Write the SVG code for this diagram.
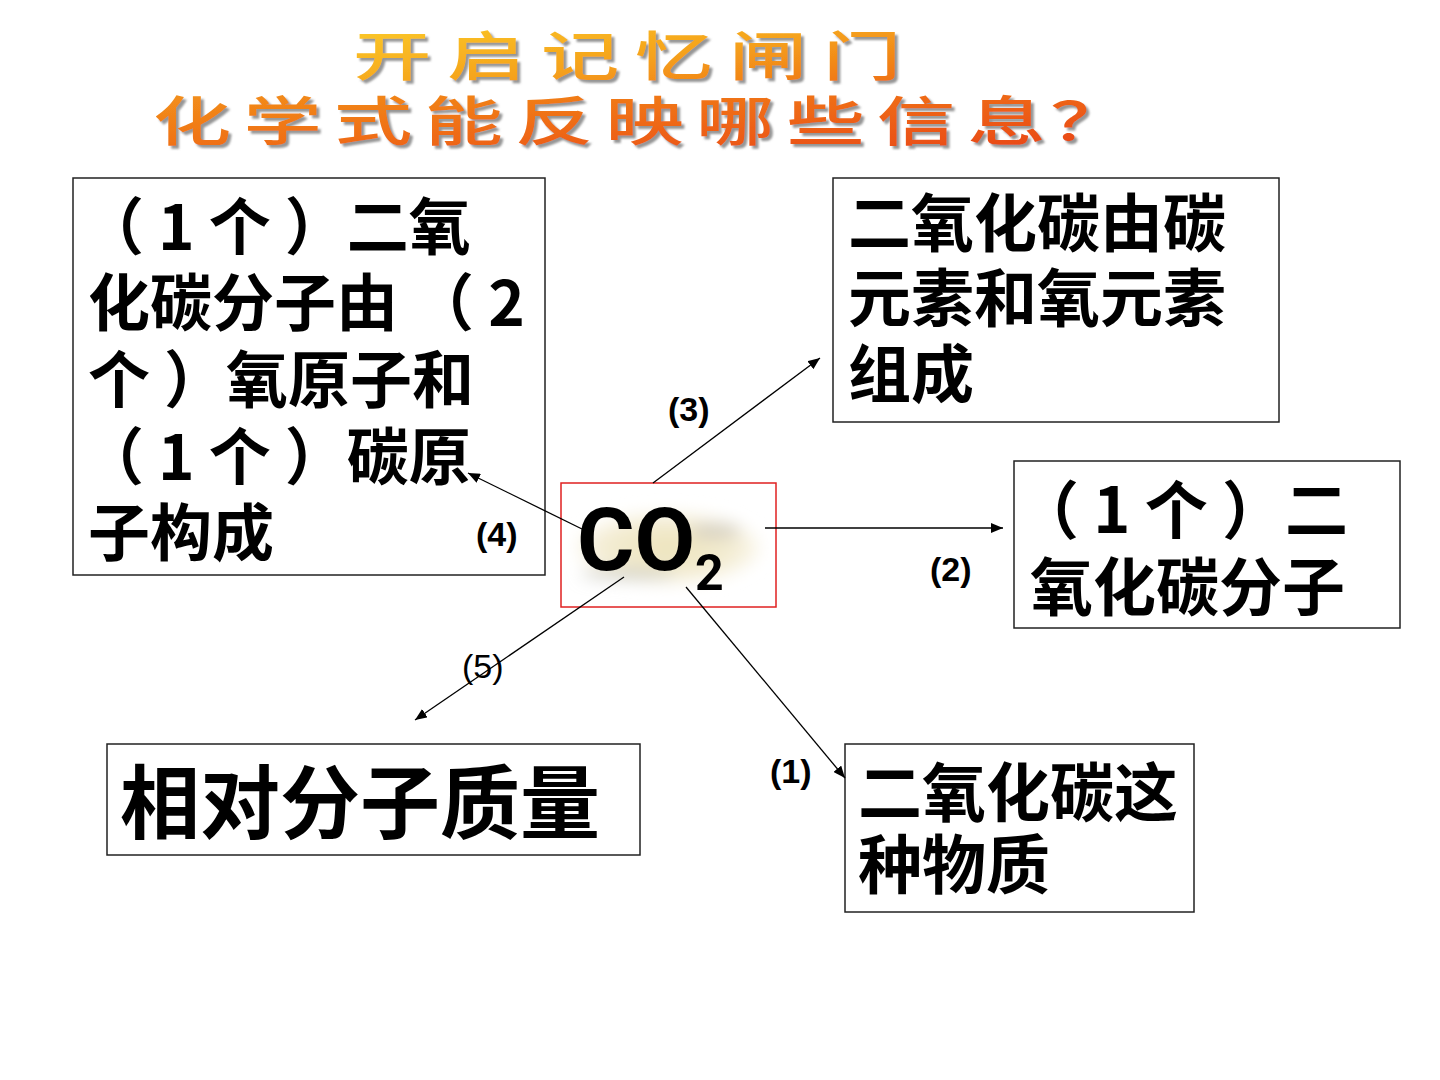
<svg xmlns="http://www.w3.org/2000/svg" width="1440" height="1080" viewBox="0 0 1440 1080">
<style>
.box{fill:#fff;stroke:#222;stroke-width:1.5}
.t{font-family:"Noto Sans CJK SC","Noto Sans",sans-serif;font-weight:700;fill:#000}
.lb{font-family:"Liberation Sans",Arial,sans-serif;font-size:34px;font-weight:700;fill:#000}
.lr{font-family:"Liberation Sans",Arial,sans-serif;font-size:34px;font-weight:400;fill:#000}
.conn{stroke:#000;stroke-width:1.3;fill:none;marker-end:url(#arr)}
.title{font-family:"Noto Sans CJK SC",sans-serif;font-size:54px;font-weight:500}
</style>
<defs>
<marker id="arr" viewBox="0 0 12 10" refX="12" refY="5" markerWidth="12" markerHeight="10" markerUnits="userSpaceOnUse" orient="auto">
<path d="M0,0 L12,5 L0,10 z" fill="#000"/>
</marker>
<linearGradient id="g1" x1="0" y1="0" x2="1" y2="1">
<stop offset="0" stop-color="#fcd02a"/>
<stop offset="0.55" stop-color="#f5a21c"/>
<stop offset="1" stop-color="#ee6a14"/>
</linearGradient>
<linearGradient id="g2" x1="0" y1="0" x2="1" y2="1">
<stop offset="0" stop-color="#f39a1c"/>
<stop offset="0.5" stop-color="#ef6c16"/>
<stop offset="1" stop-color="#e8401a"/>
</linearGradient>
<filter id="sh" x="-5%" y="-20%" width="110%" height="150%">
<feDropShadow dx="3" dy="3" stdDeviation="0.8" flood-color="#8a8a8a" flood-opacity="0.9"/>
</filter>
<filter id="blur" x="-30%" y="-60%" width="160%" height="220%">
<feGaussianBlur stdDeviation="8"/>
</filter>
<radialGradient id="bg" cx="0.5" cy="0.5" r="0.5">
<stop offset="0" stop-color="#ede3bb"/>
<stop offset="0.7" stop-color="#f3ecd2"/>
<stop offset="1" stop-color="#fbf8ee"/>
</radialGradient>
</defs>
<rect width="1440" height="1080" fill="#fff"/>

<g id="title" filter="url(#sh)">
<text class="title" fill="url(#g1)" transform="scale(1.45,1)" y="76" x="243.4 308.3 373.1 437.9 502.8 567.6">开启记忆闸门</text>
<text class="title" fill="url(#g2)" transform="scale(1.45,1)" y="141" x="105.5 167.9 230.3 292.8 355.2 417.6 480.0 542.4 604.8 667.2 724.1">化学式能反映哪些信息？</text>
</g>

<g id="node-left">
<rect class="box" x="73" y="178" width="472" height="397"/>
<text class="t" font-size="62">
<tspan x="82" y="250">（ 1 个 ）二氧</tspan>
<tspan x="88" y="326">化碳分子由 （ 2</tspan>
<tspan x="88" y="403">个 ）氧原子和</tspan>
<tspan x="82" y="480">（ 1 个 ）碳原</tspan>
<tspan x="88" y="556">子构成</tspan>
</text>
</g>

<g id="node-co2">
<rect x="561" y="483" width="215" height="124" fill="#fff" stroke="#e02020" stroke-width="1.5"/>
<g filter="url(#blur)">
<ellipse cx="668" cy="548" rx="92" ry="36" fill="url(#bg)"/>
<ellipse cx="628" cy="574" rx="48" ry="6" fill="#c6c6bd" opacity="0.7"/>
<ellipse cx="715" cy="531" rx="26" ry="8" fill="#ccc6bb" opacity="0.7"/>
</g>
<text x="577" y="570" font-family="Roboto,'Liberation Sans',sans-serif" font-weight="700" font-size="88" fill="#000">CO</text>
<text x="695" y="590" font-family="Roboto,'Liberation Sans',sans-serif" font-weight="700" font-size="50" fill="#000">2</text>
</g>

<g id="node-top-right">
<rect class="box" x="833" y="178" width="446" height="244"/>
<text class="t" font-size="63">
<tspan x="848" y="246">二氧化碳由碳</tspan>
<tspan x="848" y="321">元素和氧元素</tspan>
<tspan x="848" y="397">组成</tspan>
</text>
</g>

<g id="node-mid-right">
<rect class="box" x="1014" y="461" width="386" height="167"/>
<text class="t" font-size="63">
<tspan x="1016" y="533">（ 1 个 ）二</tspan>
<tspan x="1030" y="610">氧化碳分子</tspan>
</text>
</g>

<g id="node-bottom-left">
<rect class="box" x="107" y="744" width="533" height="111"/>
<text class="t" font-size="80" x="120" y="832">相对分子质量</text>
</g>

<g id="node-bottom-right">
<rect class="box" x="845" y="744" width="349" height="168"/>
<text class="t" font-size="64">
<tspan x="858" y="816">二氧化碳这</tspan>
<tspan x="858" y="888">种物质</tspan>
</text>
</g>

<g id="connectors">
<line class="conn" x1="582" y1="529" x2="468" y2="473"/>
<line class="conn" x1="653" y1="483" x2="820" y2="358"/>
<line class="conn" x1="765" y1="528" x2="1003" y2="528"/>
<line class="conn" x1="686" y1="587" x2="845" y2="778"/>
<line class="conn" x1="624" y1="577" x2="415" y2="720"/>
<text class="lb" x="668" y="421">(3)</text>
<text class="lb" x="930" y="581">(2)</text>
<text class="lb" x="770" y="783">(1)</text>
<text class="lb" x="476" y="546">(4)</text>
<text class="lr" x="462" y="678">(5)</text>
</g>
</svg>
